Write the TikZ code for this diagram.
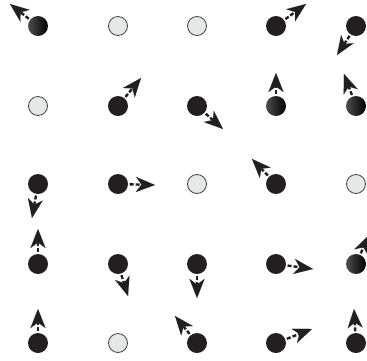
\documentclass[tikz,border=0pt]{standalone}
\usepackage{xcolor}
\usetikzlibrary{arrows.meta}
\definecolor{spinblack}{RGB}{35,31,32}
\definecolor{holegray}{RGB}{230,231,232}

\begin{document}
\begin{tikzpicture}[x=1pt,y=-1pt,
  full/.style ={circle,fill=spinblack,inner sep=0pt,minimum size=20pt},
  shade/.style={circle,left color=spinblack!80,right color=black,inner sep=0pt,
                minimum size=20pt},
  empty/.style={circle,draw=spinblack!85,fill=holegray,line width=0.8pt,
                inner sep=0pt,minimum size=19pt},
  vec/.style  ={-{Stealth[length=19pt,width=15pt,inset=5.5pt,line width=0.01pt,
                fill=spinblack]},line width=2.4pt,spinblack,
                dash pattern=on 4pt off 2pt,shorten <=1.5pt},
]
\useasboundingbox (0,0) rectangle (367,360);

% row 1
\node[shade] (p11) at ( 38, 26) {};
\node[empty] (p12) at (118, 26) {};
\node[empty] (p13) at (197, 26) {};
\node[full]  (p14) at (276, 26) {};
\node[full]  (p15) at (356, 26) {};
% row 2
\node[empty] (p21) at ( 38,106) {};
\node[full]  (p22) at (118,106) {};
\node[full]  (p23) at (197,106) {};
\node[shade] (p24) at (276,106) {};
\node[shade] (p25) at (356,106) {};
% row 3
\node[full]  (p31) at ( 38,184) {};
\node[full]  (p32) at (118,184) {};
\node[empty] (p33) at (197,184) {};
\node[full]  (p34) at (276,184) {};
\node[empty] (p35) at (356,184) {};
% row 4
\node[full]  (p41) at ( 38,264) {};
\node[full]  (p42) at (118,264) {};
\node[full]  (p43) at (197,264) {};
\node[full]  (p44) at (276,264) {};
\node[shade] (p45) at (356,264) {};
% row 5
\node[full]  (p51) at ( 38,343) {};
\node[empty] (p52) at (118,343) {};
\node[full]  (p53) at (197,343) {};
\node[full]  (p54) at (276,343) {};
\node[full]  (p55) at (356,343) {};

% arrow tips
\coordinate (t11) at ( 10,  4);
\coordinate (t14) at (306,  4);
\coordinate (t15) at (337, 55);
\coordinate (t22) at (141, 78);
\coordinate (t23) at (223,129);
\coordinate (t24) at (276, 73);
\coordinate (t25) at (344, 74);
\coordinate (t31) at ( 32,218);
\coordinate (t32) at (155,185);
\coordinate (t34) at (252,159);
\coordinate (t41) at ( 38,229);
\coordinate (t42) at (128,296);
\coordinate (t43) at (197,298);
\coordinate (t44) at (313,269);
\coordinate (t45) at (369,235);
\coordinate (t51) at ( 38,309);
\coordinate (t53) at (175,316);
\coordinate (t54) at (312,329);
\coordinate (t55) at (354,309);

\foreach \k in {11,14,15,22,23,24,25,31,32,34,41,42,43,44,45,51,53,54,55}
  \draw[vec] (p\k) -- (t\k);
\end{tikzpicture}
\end{document}
